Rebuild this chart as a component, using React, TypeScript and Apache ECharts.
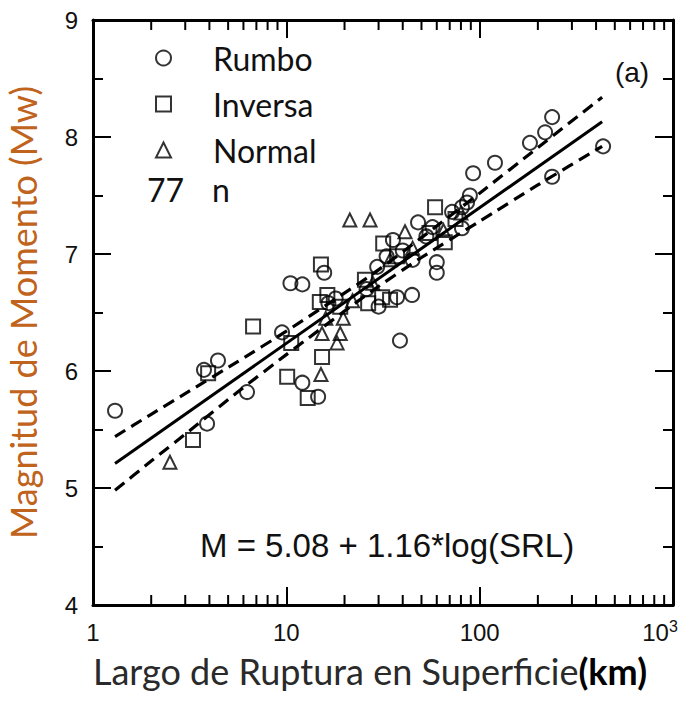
import React, { useEffect, useRef } from 'react';
import * as echarts from 'echarts';

// Surface rupture length (km) vs moment magnitude, by slip type
const rumbo: [number, number][] = [
  [1.3, 5.66], [3.75, 6.01], [4.43, 6.09], [3.89, 5.55], [6.26, 5.82], [9.5, 6.33],
  [10.5, 6.75], [12.1, 6.74], [15.7, 6.84], [12.1, 5.9], [14.6, 5.78], [16.5, 6.58],
  [29.5, 6.89], [30, 6.55], [37.4, 6.63], [44.7, 6.65], [38.7, 6.26], [35.6, 7.12],
  [40, 7.03], [45, 6.95], [48, 7.27], [57, 7.23], [60, 6.93], [60, 6.84], [72, 7.36],
  [81, 7.22], [81, 7.4], [86, 7.44], [89, 7.5], [92.5, 7.69], [120, 7.78], [182, 7.95],
  [218, 8.04], [237, 8.17], [237, 7.66], [435, 7.92], [26, 6.7], [33, 6.98], [53, 7.15],
  [18, 6.62],
];
const inversa: [number, number][] = [
  [3.29, 5.41], [3.94, 5.98], [6.73, 6.38], [10.1, 5.95], [12.9, 5.77], [15.3, 6.12],
  [15.1, 6.91], [16.3, 6.65], [14.9, 6.59], [25.5, 6.78], [26.5, 6.58], [31.3, 6.63],
  [34.4, 6.61], [31.7, 7.09], [58.8, 7.4], [66, 7.1], [10.6, 6.24], [37.4, 6.98],
  [75, 7.3], [19, 6.55], [55, 7.18],
];
const normal: [number, number][] = [
  [2.5, 5.22], [21.3, 7.29], [27.1, 7.29], [41.1, 7.19], [19.7, 6.45], [19, 6.32],
  [18.3, 6.24], [15.3, 6.32], [15.1, 5.97], [34.4, 6.95], [80, 7.35], [22, 6.6],
  [45, 7.05], [65, 7.2], [28, 6.75], [16, 6.45],
];
// Regression line M = 5.08 + 1.16*log(SRL) and its confidence band
const fitLine: [number, number][] = [[1.3, 5.21], [430, 8.13]];
const upperBand: [number, number][] = [
  [1.3, 5.44], [2, 5.63], [3.16, 5.83], [5.6, 6.08], [10, 6.34], [27.5, 6.82],
  [50, 7.14], [100, 7.52], [200, 7.91], [430, 8.34],
];
const lowerBand: [number, number][] = [
  [1.3, 4.98], [2, 5.23], [3.16, 5.49], [5.6, 5.82], [10, 6.14], [27.5, 6.68],
  [50, 6.97], [100, 7.28], [200, 7.59], [430, 7.92],
];
const xMinorTicks: number[] = [
  2, 3, 4, 5, 6, 7, 8, 9, 20, 30, 40, 50, 60, 70, 80, 90, 200, 300, 400, 500, 600, 700, 800, 900,
];
const legendNames = ['Rumbo', 'Inversa', 'Normal'];
const sampleCount = '77';
const sampleLabel = 'n';
const equationText = 'M = 5.08 + 1.16*log(SRL)';
const panelLabel = '(a)';
const xTitle = 'Largo de Ruptura en Superficie';
const xUnit = '(km)';
const yTitle = 'Magnitud de Momento (Mw)';

const BLACK = '#111';
const NUM_FONT = 'Liberation Sans';
const TXT_FONT = 'Lato';

export default function App() {
  const ref = useRef<HTMLDivElement>(null);
  useEffect(() => {
    if (!ref.current) return;
    const chart = echarts.init(ref.current, undefined, { renderer: 'svg' });
    const markerStyle = { color: 'rgba(255,255,255,0)', borderColor: '#000', borderWidth: 2 };
    const xAxisCommon = {
      type: 'log' as const,
      logBase: 10,
      min: 1,
      max: 1000,
      axisLine: { onZero: false, lineStyle: { color: '#000', width: 3 } },
      axisTick: { inside: true, length: 18, lineStyle: { color: '#000', width: 2 } },
      splitLine: { show: false },
    };
    const yAxisCommon = {
      type: 'value' as const,
      min: 4,
      max: 9,
      interval: 1,
      axisLine: { lineStyle: { color: '#000', width: 3 } },
      axisTick: { inside: true, length: 18, lineStyle: { color: '#000', width: 2 } },
      minorTick: { show: true, splitNumber: 2, length: 10, lineStyle: { color: '#000', width: 2 } },
      splitLine: { show: false },
      minorSplitLine: { show: false },
    };
    chart.setOption({
      animation: false,
      backgroundColor: '#fff',
      grid: {
        left: 93,
        right: 6,
        top: 20,
        bottom: 96,
        containLabel: false,
        outerBoundsMode: 'none',
      },
      legend: {
        orient: 'vertical',
        left: 150,
        top: 35,
        itemWidth: 15,
        itemHeight: 15,
        itemGap: 10,
        data: legendNames,
        textStyle: {
          fontFamily: TXT_FONT,
          fontSize: 32,
          lineHeight: 36,
          color: BLACK,
          padding: [0, 0, 0, 37],
        },
      },
      xAxis: [
        {
          ...xAxisCommon,
          position: 'bottom',
          name: `{t|${xTitle}}{u|${xUnit}}`,
          nameLocation: 'middle',
          nameGap: 48,
          nameTextStyle: {
            padding: [0, 26, 0, 0],
            rich: {
              t: { fontFamily: TXT_FONT, fontSize: 36, color: '#2a2a2a' },
              u: { fontFamily: TXT_FONT, fontSize: 36, color: '#000', fontWeight: 'bold' },
            },
          },
          axisLabel: {
            margin: 13,
            formatter: (v: number) => {
              const r = Math.round(v);
              return r === 1000 ? '{b|10}{s|3}' : `{b|${r}}`;
            },
            rich: {
              b: { fontFamily: NUM_FONT, fontSize: 24, color: BLACK, lineHeight: 28 },
              s: {
                fontFamily: NUM_FONT,
                fontSize: 16,
                color: BLACK,
                verticalAlign: 'top',
                lineHeight: 16,
                padding: [0, 26, 0, 0],
              },
            },
          },
        },
        {
          ...xAxisCommon,
          position: 'top',
          axisLabel: { show: false },
        },
      ],
      yAxis: [
        {
          ...yAxisCommon,
          position: 'left',
          name: yTitle,
          nameLocation: 'middle',
          nameGap: 52,
          nameTextStyle: { fontFamily: TXT_FONT, fontSize: 36, color: '#c0631c' },
          axisLabel: { margin: 15, fontFamily: NUM_FONT, fontSize: 24, color: BLACK },
        },
        {
          ...yAxisCommon,
          position: 'right',
          axisLabel: { show: false },
        },
      ],
      series: [
        {
          type: 'custom',
          name: 'minorTicks',
          xAxisIndex: 0,
          yAxisIndex: 0,
          silent: true,
          clip: false,
          data: xMinorTicks.map((v) => [v, 4]),
          renderItem: (_params: any, api: any) => {
            const v = api.value(0);
            const b = api.coord([v, 4]);
            const t = api.coord([v, 9]);
            const st = { stroke: '#000', lineWidth: 2 };
            return {
              type: 'group',
              children: [
                { type: 'line', shape: { x1: b[0], y1: b[1], x2: b[0], y2: b[1] - 10 }, style: st },
                { type: 'line', shape: { x1: t[0], y1: t[1], x2: t[0], y2: t[1] + 10 }, style: st },
              ],
            };
          },
        },
        {
          type: 'line',
          name: 'fit',
          data: fitLine,
          symbol: 'none',
          lineStyle: { color: '#000', width: 3 },
        },
        {
          type: 'line',
          name: 'upper',
          data: upperBand,
          symbol: 'none',
          smooth: 0.2,
          lineStyle: { color: '#000', width: 3.2, type: [12, 7] },
        },
        {
          type: 'line',
          name: 'lower',
          data: lowerBand,
          symbol: 'none',
          smooth: 0.2,
          lineStyle: { color: '#000', width: 3.2, type: [12, 7] },
        },
        {
          type: 'scatter',
          name: 'Rumbo',
          data: rumbo,
          symbol: 'circle',
          symbolSize: 14,
          itemStyle: markerStyle,
        },
        {
          type: 'scatter',
          name: 'Inversa',
          data: inversa,
          symbol: 'rect',
          symbolSize: 14,
          itemStyle: markerStyle,
        },
        {
          type: 'scatter',
          name: 'Normal',
          data: normal,
          symbol: 'triangle',
          symbolSize: 13,
          itemStyle: markerStyle,
        },
      ],
      graphic: [
        {
          type: 'text',
          x: 147,
          y: 189,
          style: { text: sampleCount, fontFamily: TXT_FONT, fontSize: 32, fill: BLACK, verticalAlign: 'middle' },
        },
        {
          type: 'text',
          x: 212,
          y: 189,
          style: { text: sampleLabel, fontFamily: TXT_FONT, fontSize: 32, fill: BLACK, verticalAlign: 'middle' },
        },
        {
          type: 'text',
          x: 200,
          y: 545,
          style: { text: equationText, fontFamily: NUM_FONT, fontSize: 33, fill: BLACK, verticalAlign: 'middle' },
        },
        {
          type: 'text',
          x: 632,
          y: 72,
          style: {
            text: panelLabel,
            fontFamily: NUM_FONT,
            fontSize: 28,
            fill: BLACK,
            align: 'center',
            verticalAlign: 'middle',
          },
        },
      ],
    });
    return () => chart.dispose();
  }, []);
  return (
    <div
      ref={ref}
      style={{ position: 'fixed', left: 0, top: 0, width: 679, height: 701, background: '#fff' }}
    />
  );
}
